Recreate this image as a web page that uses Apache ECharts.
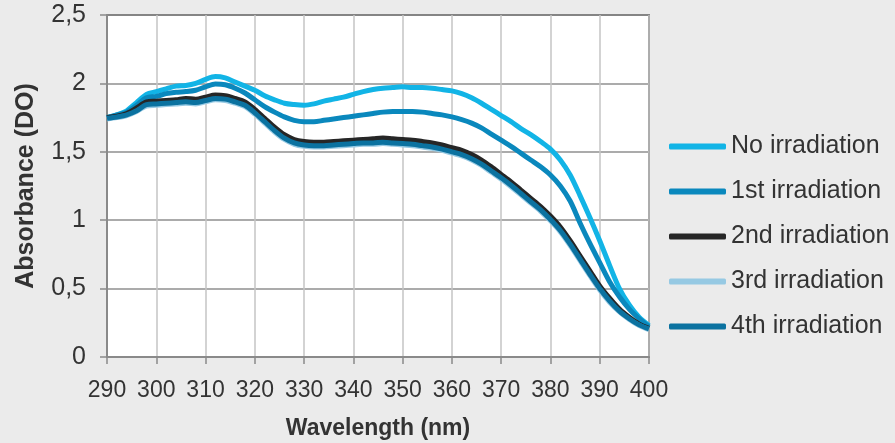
<!DOCTYPE html>
<html>
<head>
<meta charset="utf-8">
<script src="https://cdn.jsdelivr.net/npm/echarts@6/dist/echarts.min.js"></script>
<style>
  html, body { margin: 0; padding: 0; background: #ebebeb; }
  #absorbance-chart { width: 895px; height: 443px; }
</style>
</head>
<body>
<div id="absorbance-chart"></div>
<script>
var wavelengths = [290,292,294,296,298,300,302,304,306,308,310,312,314,316,318,320,322,324,326,328,
    330,332,334,336,338,340,342,344,346,348,350,352,354,356,358,360,362,364,366,368,
    370,372,374,376,378,380,382,384,386,388,390,392,394,396,398,400];

var noIrradiation = [1.75,1.77,1.80,1.86,1.92,1.94,1.96,1.98,1.985,2.00,2.03,2.05,2.04,2.01,1.98,1.95,1.91,1.88,1.855,1.845,
    1.84,1.85,1.87,1.885,1.90,1.92,1.94,1.955,1.965,1.97,1.975,1.97,1.97,1.965,1.955,1.945,1.925,1.895,1.855,1.81,
    1.765,1.72,1.67,1.625,1.575,1.52,1.44,1.33,1.18,1.02,0.85,0.67,0.50,0.38,0.29,0.23];

var irradiation1 = [1.75,1.77,1.79,1.84,1.895,1.905,1.925,1.935,1.94,1.95,1.975,1.995,1.99,1.965,1.93,1.88,1.83,1.79,1.755,1.73,
    1.72,1.72,1.73,1.74,1.75,1.76,1.77,1.78,1.79,1.795,1.795,1.795,1.79,1.78,1.77,1.755,1.735,1.71,1.675,1.63,
    1.585,1.54,1.49,1.44,1.39,1.33,1.25,1.14,0.98,0.83,0.69,0.55,0.44,0.35,0.28,0.22];

var irradiation2 = [1.75,1.76,1.78,1.82,1.865,1.87,1.875,1.88,1.89,1.885,1.90,1.915,1.91,1.89,1.865,1.81,1.745,1.68,1.625,1.59,
    1.575,1.57,1.57,1.575,1.58,1.585,1.59,1.595,1.60,1.595,1.59,1.585,1.575,1.565,1.55,1.53,1.51,1.48,1.44,1.39,
    1.335,1.28,1.22,1.16,1.10,1.03,0.95,0.85,0.74,0.63,0.52,0.43,0.35,0.29,0.24,0.21];

var irradiation3 = [1.74,1.75,1.765,1.795,1.835,1.84,1.845,1.85,1.855,1.85,1.865,1.88,1.875,1.855,1.83,1.775,1.71,1.645,1.59,1.555,
    1.54,1.535,1.535,1.54,1.545,1.55,1.555,1.555,1.56,1.555,1.55,1.545,1.535,1.525,1.51,1.49,1.47,1.44,1.40,1.35,
    1.30,1.245,1.185,1.125,1.065,0.995,0.915,0.815,0.705,0.595,0.49,0.40,0.33,0.275,0.23,0.20];

var irradiation4 = [1.745,1.755,1.77,1.80,1.845,1.85,1.855,1.86,1.865,1.86,1.875,1.89,1.885,1.865,1.84,1.785,1.72,1.655,1.60,1.565,
    1.55,1.545,1.545,1.55,1.555,1.56,1.565,1.565,1.57,1.565,1.56,1.555,1.545,1.535,1.52,1.50,1.48,1.45,1.41,1.36,
    1.31,1.255,1.195,1.135,1.075,1.005,0.925,0.825,0.715,0.605,0.50,0.41,0.335,0.28,0.235,0.205];

var seriesNames = ['No irradiation', '1st irradiation', '2nd irradiation', '3rd irradiation', '4th irradiation'];
var seriesColors = ['#12b4e6', '#0a88bd', '#262626', '#96c9e3', '#0b72a0'];
var seriesValues = [noIrradiation, irradiation1, irradiation2, irradiation3, irradiation4];

function pairs(values) {
    var out = [];
    for (var i = 0; i < wavelengths.length; i++) {
        out.push([wavelengths[i], values[i]]);
    }
    return out;
}

var chart = echarts.init(document.getElementById('absorbance-chart'));

var series = [];
for (var k = 0; k < seriesNames.length; k++) {
    series.push({
        name: seriesNames[k],
        type: 'line',
        smooth: 0.3,
        showSymbol: false,
        symbol: 'none',
        lineStyle: { width: 5, color: seriesColors[k] },
        itemStyle: { color: seriesColors[k] },
        data: pairs(seriesValues[k])
    });
}

var fontName = 'Liberation Sans, Arial, sans-serif';

var option = {
    backgroundColor: '#ebebeb',
    animation: false,
    textStyle: { fontFamily: fontName },
    grid: {
        left: 107,
        right: 246,
        top: 15,
        bottom: 86,
        outerBoundsMode: 'none',
        show: true,
        backgroundColor: '#ffffff',
        borderColor: '#3a3a3a',
        borderWidth: 1.5
    },
    legend: {
        orient: 'vertical',
        left: 664,
        top: 129,
        itemWidth: 57,
        itemHeight: 6,
        itemGap: 20,
        icon: 'roundRect',
        textStyle: { fontSize: 25, color: '#333333', fontFamily: fontName },
        data: seriesNames
    },
    xAxis: {
        type: 'value',
        min: 290,
        max: 400,
        interval: 10,
        name: 'Wavelength (nm)',
        nameLocation: 'middle',
        nameGap: 60,
        nameTextStyle: { fontSize: 23, fontWeight: 'bold', color: '#333333' },
        axisLine: { show: true, lineStyle: { color: '#8a8a8a', width: 2 } },
        axisTick: { show: true, length: 7, lineStyle: { color: '#8a8a8a', width: 1.5 } },
        axisLabel: { fontSize: 23, color: '#333333', margin: 22 },
        splitLine: { show: true, lineStyle: { color: '#c4c4c4', width: 1.5 } }
    },
    yAxis: {
        type: 'value',
        min: 0,
        max: 2.5,
        interval: 0.5,
        name: 'Absorbance (DO)',
        nameLocation: 'middle',
        nameGap: 68,
        nameTextStyle: { fontSize: 25, fontWeight: 'bold', color: '#333333' },
        axisLine: { show: true, lineStyle: { color: '#8a8a8a', width: 2 } },
        axisTick: { show: true, length: 7, lineStyle: { color: '#8a8a8a', width: 1.5 } },
        axisLabel: {
            fontSize: 25,
            color: '#333333',
            margin: 21,
            formatter: function (v) { return String(v).replace('.', ','); }
        },
        splitLine: { show: true, lineStyle: { color: '#8f8f8f', width: 1.5 } }
    },
    series: series
};

chart.setOption(option);
window.onresize = chart.resize;
</script>
</body>
</html>
